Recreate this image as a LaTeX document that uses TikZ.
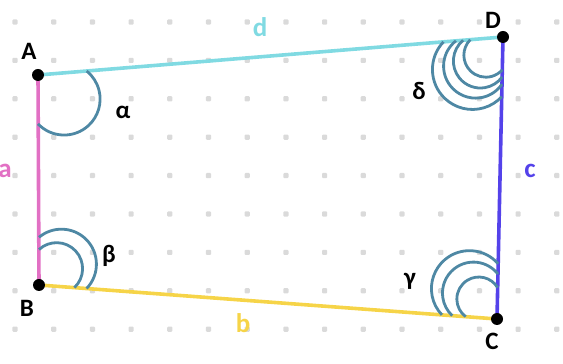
\documentclass[tikz,border=0pt]{standalone}
\usepackage{fontspec}
\setmainfont{Carlito}
\definecolor{apink}{RGB}{226,112,196}
\definecolor{dcyan}{RGB}{128,218,226}
\definecolor{cblue}{RGB}{84,66,234}
\definecolor{byell}{RGB}{246,212,72}
\definecolor{arcc}{RGB}{78,136,164}
\definecolor{gdot}{RGB}{218,218,218}
\tikzset{
  side/.style={line width=3.6pt},
  angarc/.style={draw=arcc,line width=2.8pt},
  vdot/.style={circle,fill=black,inner sep=0pt,minimum size=12pt},
  vlab/.style={font=\fontsize{25}{30}\selectfont\bfseries,text=black,inner sep=0pt},
  slab/.style={font=\fontsize{27}{32}\selectfont\bfseries,inner sep=0pt},
  gridpt/.style={fill=gdot,rounded corners=1pt}
}
% vertex V, bisector angle, half angle, centre distance, radius
\newcommand{\vxarc}[5]{%
  \pgfmathsetmacro{\tq}{#4*cos(#3)+sqrt(#5*#5-#4*#4*sin(#3)*sin(#3))}%
  \pgfmathsetmacro{\phq}{atan2(\tq*sin(#3),\tq*cos(#3)-#4)}%
  \pgfmathsetmacro{\saq}{#2-\phq}%
  \pgfmathsetmacro{\eaq}{#2+\phq}%
  \draw[angarc] (#1) ++(#2:#4) ++(\saq:#5) arc[start angle=\saq,end angle=\eaq,radius=#5];%
}
\begin{document}
\begin{tikzpicture}[x=1pt,y=1pt]
\useasboundingbox (0,0) rectangle (563,364);
% grid dots
\foreach \i in {0,...,14}{
  \foreach \j in {0,...,8}{
    \fill[gridpt] ({15+38.7*\i-2.6},{342-38.4*\j-2.6}) rectangle ++(5.2,5.2);
  }
}
% vertices
\coordinate (A) at (38,289);
\coordinate (B) at (39,79);
\coordinate (C) at (497,45);
\coordinate (D) at (503,327);
% sides
\draw[side,apink] (A) -- (B);
\draw[side,byell] (B) -- (C);
\draw[side,cblue] (C) -- (D);
\draw[side,dcyan] (A) -- (D);
% angle arcs
\vxarc{A}{-42.67}{47.33}{35.5}{36}
\vxarc{B}{42.875}{47.125}{30.6}{35}
\vxarc{B}{42.875}{47.125}{24}{26}
\vxarc{C}{132.275}{43.475}{41}{38}
\vxarc{C}{132.275}{43.475}{35}{31}
\vxarc{C}{132.275}{43.475}{27}{22}
\vxarc{D}{226.735}{42.065}{44.6}{40}
\vxarc{D}{226.735}{42.065}{40}{32}
\vxarc{D}{226.735}{42.065}{33}{27}
\vxarc{D}{226.735}{42.065}{25}{22}
% vertex dots
\node[vdot] (dA) at (A) {};
\node[vdot] (dB) at (B) {};
\node[vdot] (dC) at (C) {};
\node[vdot] (dD) at (D) {};
% vertex labels
\node[vlab] (lA) at (29,313) {A};
\node[vlab] (lB) at (27,56) {B};
\node[vlab] (lC) at (492,23) {C};
\node[vlab] (lD) at (493,344) {D};
% angle labels
\node[vlab] (alpha) at (123,252) {α};
\node[vlab] (beta) at (109,108) {β};
\node[vlab] (gamma) at (410,83) {γ};
\node[vlab] (delta) at (419,273) {δ};
% side labels
\node[slab,text=apink] (sa) at (5,193) {a};
\node[slab,text=byell] (sb) at (243,41) {b};
\node[slab,text=cblue] (sc) at (530,193) {c};
\node[slab,text=dcyan] (sd) at (260,337) {d};
\end{tikzpicture}
\end{document}
